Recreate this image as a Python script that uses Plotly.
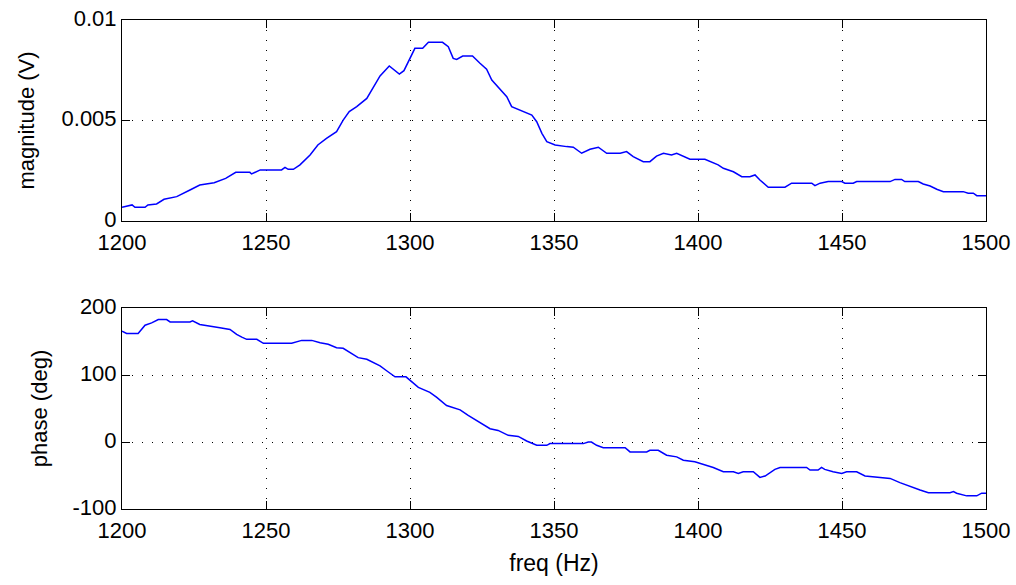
import plotly.graph_objects as go
from plotly.subplots import make_subplots

# Measured response: magnitude
mag_freq = [1200, 1203.5, 1204.5, 1208, 1209, 1212, 1214.6, 1219, 1223.6, 1227, 1232, 1236,
            1239.5, 1244.4, 1245, 1248, 1255.4, 1256.6, 1257.7, 1259.5, 1261.8, 1265.3, 1268,
            1271, 1274.5, 1276.8, 1278.9, 1281.5, 1285, 1287.3, 1289.6, 1292.8, 1296.3, 1297.9,
            1299.8, 1301.7, 1304.4, 1306.4, 1311.3, 1313.3, 1315, 1316.2, 1318.3, 1321.7, 1324.3,
            1326.6, 1328.4, 1331.3, 1333.6, 1335.3, 1339.4, 1342.3, 1344, 1345.8, 1347.5, 1350.4,
            1354.4, 1356.7, 1359.6, 1362.5, 1365.4, 1368.3, 1373, 1375.2, 1377.5, 1381, 1383.3,
            1385.6, 1388, 1390.8, 1392.6, 1395, 1397.2, 1402.4, 1404.2, 1407, 1408.8, 1412.3,
            1415.2, 1418, 1419.8, 1421.5, 1424.4, 1430.2, 1432.5, 1439.5, 1440.6, 1442.4, 1445.2,
            1449.9, 1451, 1453.9, 1455.1, 1466.7, 1468.4, 1470.7, 1471.8, 1476.5, 1478.2, 1480.6,
            1482.9, 1485.2, 1492.1, 1493.8, 1495.6, 1496.8, 1500]
mag_volts = [0.00068, 0.0008, 0.00068, 0.00068, 0.0008, 0.00085, 0.00108, 0.00121, 0.00154,
             0.00179, 0.0019, 0.00212, 0.00242, 0.00242, 0.00234, 0.00254, 0.00254, 0.00267,
             0.00257, 0.00257, 0.00279, 0.00328, 0.00378, 0.00411, 0.00444, 0.00502, 0.00544,
             0.00569, 0.0061, 0.00668, 0.00722, 0.00771, 0.00731, 0.00748, 0.00801, 0.00859,
             0.00859, 0.00889, 0.00889, 0.00867, 0.00809, 0.00804, 0.00821, 0.00821, 0.00785,
             0.00755, 0.00701, 0.00652, 0.00618, 0.00569, 0.00544, 0.00527, 0.00494, 0.00436,
             0.00395, 0.00378, 0.0037, 0.00367, 0.00337, 0.00357, 0.00367, 0.00337, 0.00337,
             0.00345, 0.0032, 0.00295, 0.00295, 0.00323, 0.00337, 0.00328, 0.00337, 0.0032,
             0.00307, 0.00307, 0.00295, 0.00279, 0.00262, 0.00245, 0.0022, 0.0022, 0.00229,
             0.00204, 0.00168, 0.00168, 0.00188, 0.00188, 0.00176, 0.00188, 0.00196, 0.00196,
             0.00188, 0.00188, 0.00196, 0.00196, 0.00207, 0.00207, 0.00196, 0.00196, 0.00184,
             0.00174, 0.00158, 0.00146, 0.00146, 0.00138, 0.00138, 0.00126, 0.00126]

# Measured response: phase
ph_freq = [1200, 1201.6, 1205.6, 1208, 1210.3, 1212.6, 1215.5, 1216.7, 1223.6, 1224.5, 1227,
           1229.9, 1234, 1237.5, 1239.8, 1241.6, 1243.3, 1246.8, 1249.1, 1258.9, 1262.4, 1265.9,
           1268.8, 1271.6, 1274.5, 1276.8, 1280.3, 1282, 1285, 1287.3, 1289.6, 1292, 1294.8,
           1298.6, 1300.6, 1302.9, 1306.9, 1309.3, 1312.7, 1317.4, 1320.2, 1323.7, 1327.8,
           1330.6, 1334.1, 1337.6, 1340.5, 1344, 1347.5, 1348.6, 1360.2, 1361.9, 1363, 1364.8,
           1367.1, 1374.7, 1376.4, 1382.2, 1383.3, 1386.2, 1389.1, 1392.6, 1394.9, 1398.9,
           1401.8, 1405.3, 1408.8, 1412.3, 1414, 1415.7, 1419.2, 1421.5, 1423.3, 1426.7, 1428.5,
           1437.7, 1438.9, 1441.7, 1442.9, 1444, 1446.9, 1449.9, 1451.6, 1455.1, 1458, 1462,
           1466.7, 1470.1, 1473.6, 1477.1, 1480, 1487.5, 1488.7, 1489.8, 1493.3, 1496.8, 1498.5,
           1500]
ph_deg = [165.5, 162, 162, 174.4, 177.8, 182.8, 182.8, 179.3, 179.3, 181, 175.4, 172.9, 170.4,
          168, 160.6, 156.6, 153.2, 153.2, 147.3, 147.3, 151.7, 151.7, 148.1, 145.8, 140.7, 139.9,
          131, 125.9, 123.5, 118.5, 113.6, 106, 97.3, 97.3, 90.4, 81.5, 74.1, 66.7, 54.4, 48, 39.6,
          31.1, 19.9, 17.3, 9.9, 8.4, 1.5, -4.9, -4.9, -2.4, -2.4, 0, 0, -4.9, -8.4, -8.4, -14.8,
          -14.8, -12.3, -12.3, -19.7, -22.2, -27.1, -29.6, -33, -38, -44.4, -44.4, -46.9, -44.4,
          -44.4, -52.8, -50.8, -40.9, -38, -38, -41.9, -41.9, -38, -40.9, -44.4, -46.9, -44.4,
          -44.4, -50.8, -52.8, -54.3, -60.7, -66.7, -71.6, -75.6, -75.6, -74.1, -76.4, -80.4,
          -80.4, -76.4, -76.4]

freq_ticks = [1200, 1250, 1300, 1350, 1400, 1450, 1500]
mag_ticks = [0, 0.005, 0.01]
mag_tick_text = ["0", "0.005", "0.01"]
ph_ticks = [-100, 0, 100, 200]

FONT = "Liberation Sans, Arial, sans-serif"

fig = make_subplots(rows=2, cols=1, vertical_spacing=0.178)

fig.add_trace(go.Scatter(x=mag_freq, y=mag_volts, mode="lines",
                         line=dict(color="#0000ff", width=1.5), showlegend=False),
              row=1, col=1)
fig.add_trace(go.Scatter(x=ph_freq, y=ph_deg, mode="lines",
                         line=dict(color="#0000ff", width=1.5), showlegend=False),
              row=2, col=1)

axis_common = dict(
    showline=True, linecolor="black", linewidth=1, mirror="ticks",
    ticks="inside", ticklen=8, tickwidth=1, tickcolor="black",
    showgrid=True, gridcolor="black", gridwidth=1, griddash="1px,9px",
    zeroline=False,
    tickfont=dict(family=FONT, size=22, color="black"),
)

for r in (1, 2):
    fig.update_xaxes(range=[1200, 1500], tickvals=freq_ticks,
                     ticktext=[str(v) for v in freq_ticks], ticklabelstandoff=2,
                     row=r, col=1, **axis_common)

fig.update_yaxes(range=[0, 0.01], tickvals=mag_ticks, ticktext=mag_tick_text,
                 ticklabelshift=-2,
                 title=dict(text="magnitude (V)", font=dict(family=FONT, size=22, color="black"),
                            standoff=20),
                 row=1, col=1, **axis_common)
fig.update_yaxes(range=[-100, 200], tickvals=ph_ticks, ticktext=[str(v) for v in ph_ticks],
                 ticklabelshift=-2,
                 title=dict(text="phase (deg)", font=dict(family=FONT, size=22, color="black"),
                            standoff=18),
                 row=2, col=1, **axis_common)
fig.update_xaxes(title=dict(text="freq (Hz)", font=dict(family=FONT, size=23, color="black"),
                            standoff=12), row=2, col=1)

fig.update_layout(
    width=1016, height=585,
    margin=dict(l=122, r=30, t=20, b=76, autoexpand=False),
    paper_bgcolor="white", plot_bgcolor="white",
    font=dict(family=FONT, color="black"),
)

fig.write_html("out.html")
